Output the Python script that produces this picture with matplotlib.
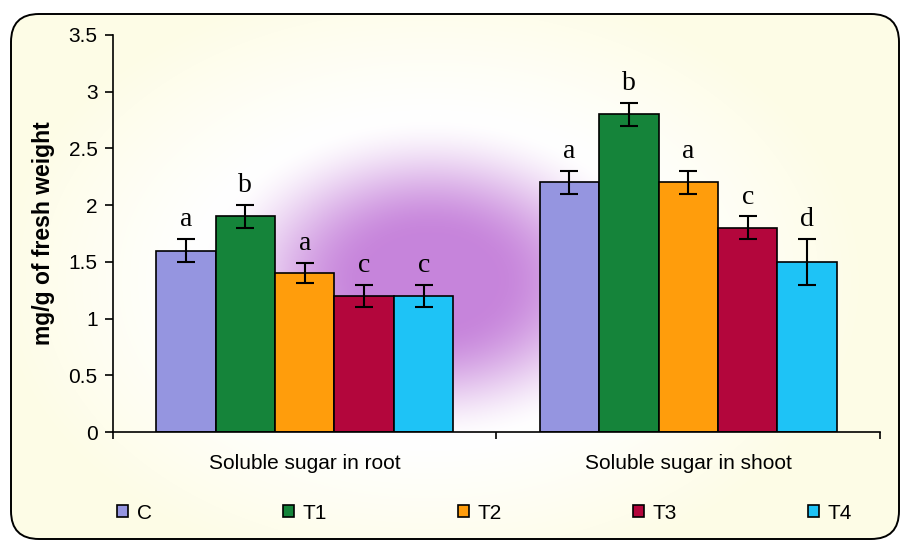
import numpy as np
import matplotlib
matplotlib.use("Agg")
import matplotlib.pyplot as plt
from matplotlib.patches import FancyBboxPatch, Patch

groups = ["Soluble sugar in root", "Soluble sugar in shoot"]
treatments = ["C", "T1", "T2", "T3", "T4"]
root_vals = [1.6, 1.9, 1.4, 1.2, 1.2]
root_err = [0.1, 0.1, 0.09, 0.1, 0.1]
root_letters = ["a", "b", "a", "c", "c"]
shoot_vals = [2.2, 2.8, 2.2, 1.8, 1.5]
shoot_err = [0.1, 0.1, 0.1, 0.1, 0.2]
shoot_letters = ["a", "b", "a", "c", "d"]
colors = ["#9595e0", "#15843a", "#ff9d0c", "#b3063c", "#1ec3f6"]

plt.rcParams["font.family"] = ["Liberation Sans", "DejaVu Sans"]

fig = plt.figure(figsize=(9.04, 5.44), dpi=100)

# background: cream with a purple glow in the middle, inside a rounded frame
bg = fig.add_axes([0, 0, 1, 1])
bg.set_xlim(0, 904)
bg.set_ylim(544, 0)
bg.axis("off")
yy, xx = np.mgrid[0:544, 0:904]
r = np.sqrt(((xx - 430) / 215.0) ** 2 + ((yy - 280) / 150.0) ** 2)
purple = np.array([0.78, 0.52, 0.86])
white = np.array([1.0, 1.0, 1.0])
cream = np.array([0.995, 0.99, 0.905])
s1 = np.clip((r - 0.3) / 0.8, 0, 1)
s1 = (s1 * s1 * (3 - 2 * s1))[..., None]
s2 = np.clip((r - 1.1) / 0.9, 0, 1)[..., None]
img = np.where(r[..., None] < 1.1, purple * (1 - s1) + white * s1, white * (1 - s2) + cream * s2)
im = bg.imshow(img, extent=(0, 904, 544, 0), aspect="auto", zorder=0)
frame = FancyBboxPatch((11, 14), 888, 525, boxstyle="round,pad=0,rounding_size=28",
                       facecolor="none", edgecolor="black", linewidth=1.4, zorder=2)
bg.add_patch(frame)
im.set_clip_path(frame)

ax = fig.add_axes([113 / 904, 1 - 432 / 544, (880 - 113) / 904, (432 - 35) / 544])
ax.patch.set_alpha(0)

x = np.arange(len(groups))
width = 0.155
for i, t in enumerate(treatments):
    pos = x + (i - 2) * width
    vals = [root_vals[i], shoot_vals[i]]
    errs = [root_err[i], shoot_err[i]]
    ax.bar(pos, vals, width, color=colors[i], edgecolor="black", linewidth=1.2, zorder=2)
    ax.errorbar(pos, vals, yerr=errs, fmt="none", ecolor="black", elinewidth=1.5,
                capsize=6.5, capthick=1.5, zorder=3)
    for p, v, e, lab in zip(pos, vals, errs, [root_letters[i], shoot_letters[i]]):
        ax.text(p, v + e + 0.06, lab, ha="center", va="bottom", fontsize=20,
                family=["Liberation Serif", "DejaVu Serif"])

ax.set_xlim(-0.5, 1.5)
ax.set_ylim(0, 3.5)
ax.set_yticks(np.arange(0, 3.51, 0.5))
ax.set_yticklabels(["0", "0.5", "1", "1.5", "2", "2.5", "3", "3.5"])
ax.set_xticks([-0.5, 0.5, 1.5])
ax.set_xticklabels([])
ax.set_xticks(x, minor=True)
ax.set_xticklabels(groups, minor=True, fontsize=15)
ax.tick_params(axis="x", which="minor", length=0, pad=16)
ax.tick_params(axis="x", which="major", length=5, width=1.2, direction="out")
ax.tick_params(axis="y", length=6, width=1.2, labelsize=15, pad=5)
ax.spines["top"].set_visible(False)
ax.spines["right"].set_visible(False)
ax.spines["left"].set_linewidth(1.2)
ax.spines["bottom"].set_linewidth(1.2)
ax.set_ylabel("mg/g of fresh weight", fontsize=16.5, fontweight="bold", labelpad=10)

handles = [Patch(facecolor=c, edgecolor="black", linewidth=1.2) for c in colors]
fig.legend(handles, treatments, loc="lower left", ncol=5, mode="expand",
           bbox_to_anchor=(98 / 904, 0.005, 0.855, 0.06), frameon=False, fontsize=15,
           handlelength=0.55, handleheight=0.55, handletextpad=0.4)

fig.savefig("out.png", dpi=100)
